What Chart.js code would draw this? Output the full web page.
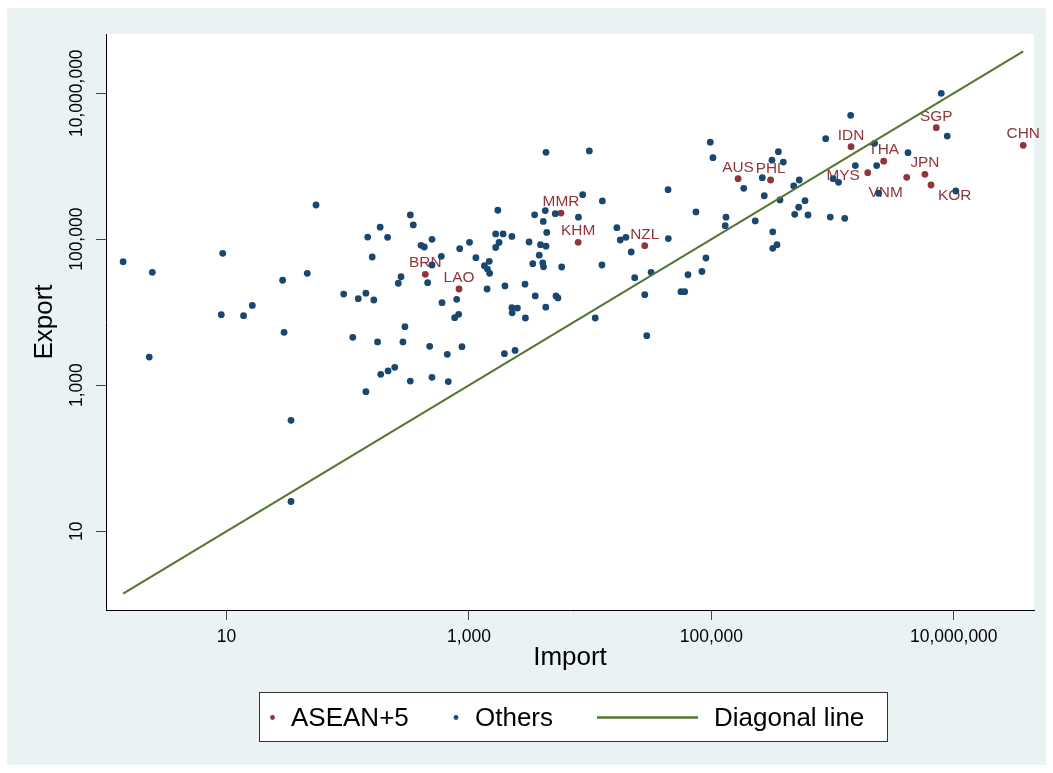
<!DOCTYPE html>
<html>
<head>
<meta charset="utf-8">
<title>Export vs Import</title>
<script src="https://cdn.jsdelivr.net/npm/chart.js@4.4.1/dist/chart.umd.min.js"></script>
<style>
  html, body { margin: 0; padding: 0; background: #fff; }
  #wrap { width: 1053px; height: 773px; }
</style>
</head>
<body>
<div id="wrap"><canvas id="chart" width="1053" height="773"></canvas></div>
<script>
// Export vs Import by country, log-log (Stata s2color look)

const aseanNames  = ['AUS', 'PHL', 'IDN', 'SGP', 'CHN', 'THA', 'MYS', 'VNM', 'JPN', 'KOR', 'MMR', 'KHM', 'NZL', 'BRN', 'LAO'];
const aseanImport = [166000, 308000, 1420000, 7170000, 37400000, 2640000, 1950000, 4090000, 5780000, 6490000, 5740, 7960, 28200, 436, 827];
const aseanExport = [674000, 647000, 1850000, 3370000, 1930000, 1170000, 815000, 704000, 775000, 553000, 228000, 90700, 81500, 33000, 20800];

const otherImport = [
    54.7, 1.40, 2.44, 9.29, 29.0, 46.3, 92.5, 9.04, 13.8, 16.3, 29.8, 2.30, 34.0, 34.0,
    328, 347, 185, 146, 213, 159, 402, 428, 495, 591, 495, 275, 261, 456, 838, 1010, 1140,
    122, 141, 164, 599, 792, 822, 762, 296, 110, 176, 285, 474, 875, 662, 187, 215, 244,
    328, 495, 675, 141,
    1730, 1660, 1910, 2260, 1770, 1660, 1470, 1340, 1420, 1480, 1410, 1980, 2900, 3130,
    3480, 4260, 4100, 5150, 4380, 3890, 4320, 3800, 3360, 4060, 4120, 5820, 8000, 3520,
    5220, 5420, 4300, 2260, 2510, 2270, 2920, 1960, 2400,
    4320, 9840, 97900, 103000, 43900, 8670, 12600, 16600, 17700, 19700, 21800, 44100,
    74600, 132000, 130000, 12500, 23300, 31800, 90200, 83600, 64100, 28200, 56100, 60200,
    11000, 29300,
    7880000, 1410000, 8830000, 877000, 2220000, 4190000, 357000, 316000, 392000, 263000,
    185000, 531000, 478000, 273000, 368000, 1540000, 2310000, 1010000, 1120000, 2400000,
    10400000, 230000, 321000, 348000, 321000, 525000, 592000, 487000, 627000, 957000, 1260000
];
const otherExport = [
    294000, 49200, 35200, 64100, 27400, 34100, 17700, 9240, 8950, 12400, 5300, 2430, 330, 25.5,
    215000, 157000, 146000, 107000, 106000, 57000, 82500, 78200, 99700, 58300, 44300, 30600, 24900, 25400, 74100, 90700, 55800,
    15300, 18200, 14700, 13500, 15000, 9360, 8410, 6330, 4530, 3910, 3910, 3410, 3370, 2650, 1410, 1570, 1760,
    1140, 1280, 1120, 815,
    249000, 118000, 118000, 109000, 90100, 77000, 49800, 43300, 39000, 34100, 20800, 22900, 24200, 91600,
    216000, 247000, 175000, 224000, 124000, 84100, 80200, 60400, 46200, 47200, 41900, 41600, 200000, 16700,
    16700, 15700, 11700, 11500, 11400, 9810, 8330, 2700, 2990,
    1550000, 1620000, 2130000, 1310000, 477000, 407000, 334000, 144000, 97500, 106000, 66800, 102000,
    236000, 200000, 153000, 44300, 29700, 35200, 55300, 36100, 32600, 17400, 19100, 19100,
    8330, 4770,
    9970000, 4980000, 2590000, 2380000, 2060000, 1530000, 1580000, 1210000, 1140000, 696000,
    498000, 647000, 536000, 394000, 345000, 1020000, 1020000, 674000, 602000, 426000,
    457000, 178000, 126000, 84100, 75000, 274000, 337000, 219000, 215000, 201000, 193000
];

// diagonal line runs over the import range (export = import)
const diagonalEnds = [1.4, 37400000];
const axisTicks = [10, 1000, 100000, 10000000];

const FONT = '"Liberation Sans", Arial, Helvetica, sans-serif';
const NAVY = '#1A476F';
const MAROON = '#90353B';
const GREEN = '#55752F';
const BG = '#EAF2F3';

// Stata-like clock positions for a few labels, default is 12 o'clock
const labelPlacement = {
    MYS: { align: 'right', dx: -8, dy: 7.5 },
    VNM: { align: 'right', dx: -4, dy: 19.5 },
    KOR: { align: 'left', dx: 7, dy: 15 }
};

const fmt = v => Number(v).toLocaleString('en-US');

// fond du graphique
const stataFrame = {
    id: 'stataFrame',
    beforeDraw(chart) {
        const { ctx, chartArea: a } = chart;
        ctx.save();
        ctx.fillStyle = '#fff';
        ctx.fillRect(0, 0, chart.width, chart.height);
        ctx.fillStyle = BG;
        ctx.fillRect(7, 8, chart.width - 14, chart.height - 16);
        ctx.fillStyle = '#fff';
        ctx.fillRect(a.left, a.top, a.right - a.left, a.bottom - a.top);
        ctx.restore();
    }
};

// country codes next to the ASEAN+5 markers
const markerLabels = {
    id: 'markerLabels',
    afterDatasetDraw(chart, args) {
        if (chart.data.datasets[args.index].label !== 'ASEAN+5') return;
        const ctx = chart.ctx;
        ctx.save();
        ctx.font = '15.4px ' + FONT;
        ctx.fillStyle = MAROON;
        ctx.textBaseline = 'alphabetic';
        args.meta.data.forEach((pt, i) => {
            const name = aseanNames[i];
            const p = labelPlacement[name] || { align: 'center', dx: 0, dy: -7 };
            ctx.textAlign = p.align;
            ctx.fillText(name, pt.x + p.dx, pt.y + p.dy);
        });
        ctx.restore();
    }
};

// vertical y tick labels + boxed legend
const yLabelsAndLegend = {
    id: 'yLabelsAndLegend',
    afterDraw(chart) {
        const ctx = chart.ctx;
        const yScale = chart.scales.y;
        ctx.save();
        ctx.font = '17.5px ' + FONT;
        ctx.fillStyle = '#000';
        ctx.textAlign = 'center';
        ctx.textBaseline = 'middle';
        axisTicks.forEach(v => {
            ctx.save();
            ctx.translate(77.5, yScale.getPixelForValue(v));
            ctx.rotate(-Math.PI / 2);
            ctx.fillText(fmt(v), 0, 0);
            ctx.restore();
        });

        // legend box
        ctx.fillStyle = '#fff';
        ctx.fillRect(259.5, 692.5, 628, 49);
        ctx.strokeStyle = '#333';
        ctx.lineWidth = 1;
        ctx.strokeRect(259.5, 692.5, 628, 49);

        const ly = 717.5;
        ctx.fillStyle = MAROON;
        ctx.beginPath(); ctx.arc(272.5, ly, 2.4, 0, Math.PI * 2); ctx.fill();
        ctx.fillStyle = NAVY;
        ctx.beginPath(); ctx.arc(456, ly, 2.4, 0, Math.PI * 2); ctx.fill();
        ctx.strokeStyle = GREEN;
        ctx.lineWidth = 2.5;
        ctx.beginPath(); ctx.moveTo(597, ly); ctx.lineTo(698, ly); ctx.stroke();

        ctx.font = '26px ' + FONT;
        ctx.fillStyle = '#000';
        ctx.textAlign = 'left';
        ctx.textBaseline = 'middle';
        ctx.fillText('ASEAN+5', 291, 719);
        ctx.fillText('Others', 475, 719);
        ctx.fillText('Diagonal line', 714, 719);
        ctx.restore();
    }
};

const asean = aseanImport.map((x, i) => ({ x: x, y: aseanExport[i] }));
const others = otherImport.map((x, i) => ({ x: x, y: otherExport[i] }));
const diagonal = diagonalEnds.map(v => ({ x: v, y: v }));

new Chart(document.getElementById('chart'), {
    type: 'scatter',
    data: {
        datasets: [{
            label: 'Diagonal line',
            data: diagonal,
            showLine: true,
            borderColor: GREEN,
            borderWidth: 2,
            pointRadius: 0,
            pointHoverRadius: 0,
            fill: false
        }, {
            label: 'Others',
            data: others,
            backgroundColor: NAVY,
            borderWidth: 0,
            pointRadius: 3.4
        }, {
            label: 'ASEAN+5',
            data: asean,
            backgroundColor: MAROON,
            borderWidth: 0,
            pointRadius: 3.4
        }]
    },
    options: {
        responsive: false,
        animation: false,
        devicePixelRatio: 1,
        layout: { padding: { left: 0, top: 34, right: 19, bottom: 0 } },
        plugins: {
            legend: { display: false },
            tooltip: { enabled: false }
        },
        scales: {
            x: {
                type: 'logarithmic',
                position: 'bottom',
                bounds: 'data',
                min: 1.0116,
                max: 45.9e6,
                afterBuildTicks: s => { s.ticks = axisTicks.map(v => ({ value: v })); },
                afterFit: s => { s.height = 163; },
                grid: { display: true, drawOnChartArea: false, drawTicks: true, tickLength: 10, color: '#444' },
                border: { display: true, color: '#000', width: 1 },
                ticks: {
                    autoSkip: false, maxRotation: 0, padding: 7, color: '#000',
                    font: { size: 17.5, family: FONT },
                    callback: v => fmt(v)
                },
                title: {
                    display: true, text: 'Import', color: '#000',
                    font: { size: 26, family: FONT },
                    padding: { top: 0, bottom: 100 }
                }
            },
            y: {
                type: 'logarithmic',
                position: 'left',
                bounds: 'data',
                min: 0.8328,
                max: 64.7e6,
                afterBuildTicks: s => { s.ticks = axisTicks.map(v => ({ value: v })); },
                afterFit: s => { s.width = 106; },
                grid: { display: true, drawOnChartArea: false, drawTicks: true, tickLength: 10, color: '#444' },
                border: { display: true, color: '#000', width: 1 },
                ticks: { display: false },
                title: {
                    display: true, text: 'Export', color: '#000',
                    font: { size: 26, family: FONT },
                    padding: { top: 29, bottom: 0 }
                }
            }
        }
    },
    plugins: [stataFrame, markerLabels, yLabelsAndLegend]
});
</script>
</body>
</html>
